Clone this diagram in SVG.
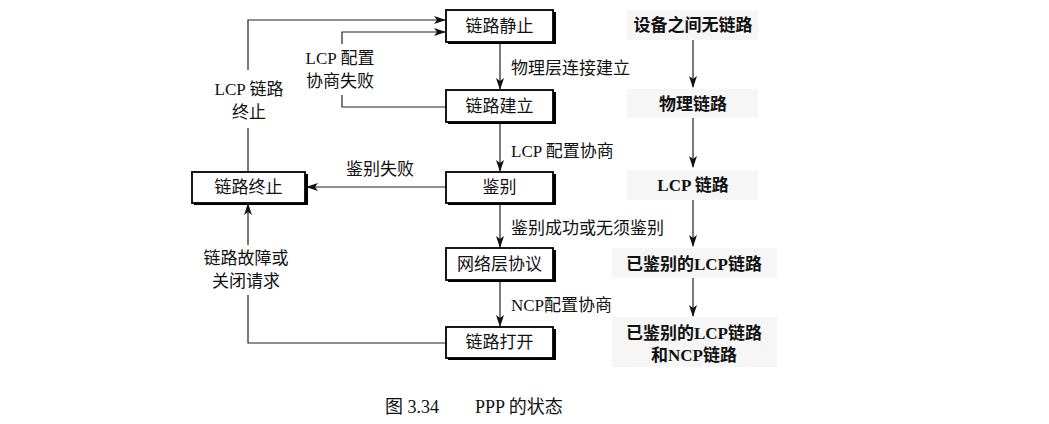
<svg xmlns="http://www.w3.org/2000/svg" width="1049" height="424" viewBox="0 0 1049 424">
<style>
.box{fill:#fff;stroke:#000;stroke-width:1.8}
.sh{fill:#000}
.t{font-family:"Liberation Serif","Noto Sans CJK SC",serif;font-size:17px;fill:#111}
.l{font-family:"Liberation Serif","Noto Sans CJK SC",serif;font-size:17px;fill:#111}
.r{font-family:"Liberation Serif","Noto Sans CJK SC",serif;font-size:17px;font-weight:bold;fill:#111}
.bg{fill:#f6f6f6}
.ln{fill:none;stroke:#222;stroke-width:1.2}
</style>
<defs>
<marker id="a" markerWidth="12" markerHeight="8" refX="11" refY="4" orient="auto" markerUnits="userSpaceOnUse">
<path d="M0,0 L12,4 L0,8 L3,4 Z" fill="#111"/>
</marker>
</defs>
<rect width="1049" height="424" fill="#fff"/>

<g id="connectors">
<path class="ln" d="M500,42 V89" marker-end="url(#a)"/>
<path class="ln" d="M500,122 V171" marker-end="url(#a)"/>
<path class="ln" d="M500,203 V247" marker-end="url(#a)"/>
<path class="ln" d="M500,280 V326" marker-end="url(#a)"/>
<path class="ln" d="M248,172 V128 M248,70 V20 H445" marker-end="url(#a)"/>
<path class="ln" d="M446,107 H342 V95 M342,44 V32 H445" marker-end="url(#a)"/>
<path class="ln" d="M446,187 H307" marker-end="url(#a)"/>
<path class="ln" d="M446,343 H248 V295 M248,245 V204" marker-end="url(#a)"/>
<path class="ln" d="M693,40 V87" marker-end="url(#a)"/>
<path class="ln" d="M693,118 V167" marker-end="url(#a)"/>
<path class="ln" d="M693,200 V246" marker-end="url(#a)"/>
<path class="ln" d="M693,278 V316" marker-end="url(#a)"/>
</g>

<g id="n-static">
<rect class="sh" x="448" y="12" width="108" height="32"/>
<rect class="box" x="446" y="10" width="107" height="32"/>
<text class="t" x="499.5" y="32" text-anchor="middle">链路静止</text>
</g>
<g id="n-establish">
<rect class="sh" x="448" y="92" width="108" height="32"/>
<rect class="box" x="446" y="90" width="107" height="32"/>
<text class="t" x="499.5" y="112" text-anchor="middle">链路建立</text>
</g>
<g id="n-auth">
<rect class="sh" x="448" y="174" width="108" height="31"/>
<rect class="box" x="446" y="172" width="107" height="31"/>
<text class="t" x="499.5" y="193" text-anchor="middle">鉴别</text>
</g>
<g id="n-network">
<rect class="sh" x="448" y="250" width="108" height="32"/>
<rect class="box" x="446" y="248" width="107" height="32"/>
<text class="t" x="499.5" y="270" text-anchor="middle">网络层协议</text>
</g>
<g id="n-open">
<rect class="sh" x="448" y="329" width="108" height="31"/>
<rect class="box" x="446" y="327" width="107" height="31"/>
<text class="t" x="499.5" y="348" text-anchor="middle">链路打开</text>
</g>
<g id="n-terminate">
<rect class="sh" x="194" y="174" width="114" height="31"/>
<rect class="box" x="192" y="172" width="113" height="31"/>
<text class="t" x="248.5" y="193" text-anchor="middle">链路终止</text>
</g>

<g id="labels">
<text class="l" x="511" y="74">物理层连接建立</text>
<text class="l" x="511" y="157">LCP 配置协商</text>
<text class="l" x="511" y="234">鉴别成功或无须鉴别</text>
<text class="l" x="511" y="311">NCP配置协商</text>
<text class="l" x="380" y="175" text-anchor="middle">鉴别失败</text>
<text class="l" x="340" y="64" text-anchor="middle">LCP 配置</text>
<text class="l" x="340" y="87" text-anchor="middle">协商失败</text>
<text class="l" x="249" y="95" text-anchor="middle">LCP 链路</text>
<text class="l" x="249" y="118" text-anchor="middle">终止</text>
<text class="l" x="246" y="264" text-anchor="middle">链路故障或</text>
<text class="l" x="246" y="287" text-anchor="middle">关闭请求</text>
</g>

<g id="r1"><rect class="bg" x="627" y="10" width="131" height="30"/><text class="r" x="693" y="31" text-anchor="middle">设备之间无链路</text></g>
<g id="r2"><rect class="bg" x="627" y="89" width="131" height="29"/><text class="r" x="693" y="110" text-anchor="middle">物理链路</text></g>
<g id="r3"><rect class="bg" x="627" y="170" width="131" height="30"/><text class="r" x="693" y="191" text-anchor="middle">LCP 链路</text></g>
<g id="r4"><rect class="bg" x="612" y="248" width="165" height="30"/><text class="r" x="694" y="270" text-anchor="middle">已鉴别的LCP链路</text></g>
<g id="r5"><rect class="bg" x="612" y="317" width="165" height="50"/><text class="r" x="694" y="339" text-anchor="middle">已鉴别的LCP链路</text><text class="r" x="694" y="361" text-anchor="middle">和NCP链路</text></g>

<g id="caption">
<text class="t" x="385" y="413" style="font-size:18px">图 3.34</text>
<text class="t" x="475" y="413" style="font-size:18px">PPP 的状态</text>
</g>
</svg>
